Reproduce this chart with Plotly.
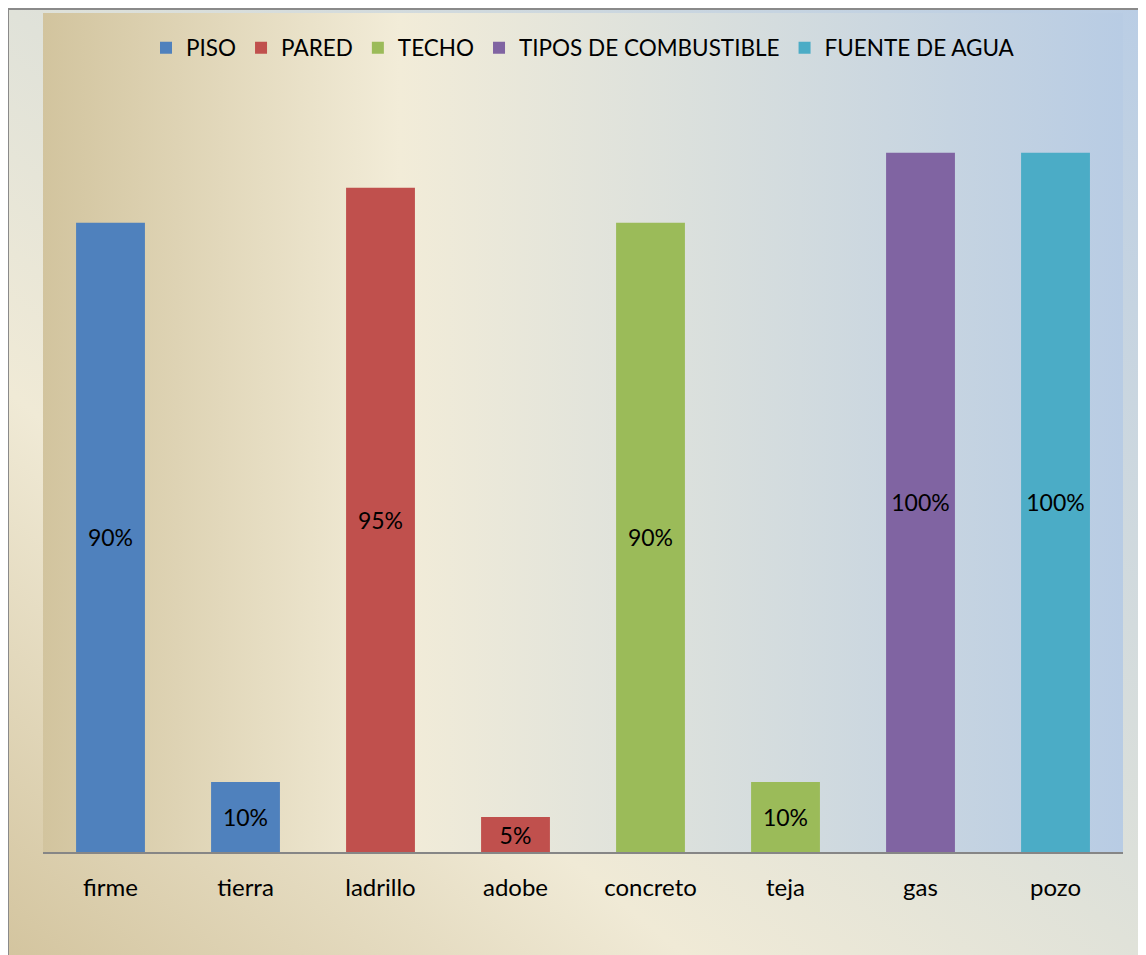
import base64

import plotly.graph_objects as go

# Data
series_names = ["PISO", "PARED", "TECHO", "TIPOS DE COMBUSTIBLE", "FUENTE DE AGUA"]
piso_cats = ["firme", "tierra"]
piso_vals = [0.90, 0.10]
pared_cats = ["ladrillo", "adobe"]
pared_vals = [0.95, 0.05]
techo_cats = ["concreto", "teja"]
techo_vals = [0.90, 0.10]
combustible_cats = ["gas"]
combustible_vals = [1.00]
agua_cats = ["pozo"]
agua_vals = [1.00]
categories = piso_cats + pared_cats + techo_cats + combustible_cats + agua_cats

COLORS = ["#4F81BD", "#C0504D", "#9BBB59", "#8064A2", "#4BACC6"]
FONT = "Lato, 'Open Sans', sans-serif"

# page has an 8px body margin, so the figure starts at (8, 8)
OFF = 8
W, H = 1146 - OFF, 955 - OFF
ML, MT = 43 - OFF, 13 - OFF
MR, MB = W - (1123 - OFF), H - (852 - OFF)
PW, PH = W - ML - MR, H - MT - MB
BX, BY = 8 - OFF, 9 - OFF  # outer border corner


def svg_uri(svg):
    return "data:image/svg+xml;base64," + base64.b64encode(svg.encode()).decode()


outer_svg = """<svg xmlns='http://www.w3.org/2000/svg' width='200' height='200' preserveAspectRatio='none'>
<defs><linearGradient id='g' x1='0' y1='1' x2='1' y2='0'>
<stop offset='0' stop-color='#d3c49e'/>
<stop offset='0.3' stop-color='#f0ead6'/>
<stop offset='0.5' stop-color='#e0e2d9'/>
<stop offset='1' stop-color='#b9cde5'/>
</linearGradient></defs>
<rect width='200' height='200' fill='url(#g)'/></svg>"""

inner_svg = """<svg xmlns='http://www.w3.org/2000/svg' width='200' height='200' preserveAspectRatio='none'>
<defs><linearGradient id='g' x1='0' y1='0' x2='1' y2='0'>
<stop offset='0' stop-color='#d2c49e'/>
<stop offset='0.33' stop-color='#f2ecd8'/>
<stop offset='0.62' stop-color='#d9dfdd'/>
<stop offset='1' stop-color='#b8cce4'/>
</linearGradient></defs>
<rect width='200' height='200' fill='url(#g)'/></svg>"""

fig = go.Figure()

all_series = [
    (piso_cats, piso_vals),
    (pared_cats, pared_vals),
    (techo_cats, techo_vals),
    (combustible_cats, combustible_vals),
    (agua_cats, agua_vals),
]
for name, (cats, vals), color in zip(series_names, all_series, COLORS):
    fig.add_trace(
        go.Bar(
            x=cats,
            y=vals,
            name=name,
            marker=dict(color=color, line=dict(width=0)),
            texttemplate="%{y:.0%}",
            textposition="inside",
            insidetextanchor="middle",
            textangle=0,
            textfont=dict(color="black", size=23, family=FONT),
            hoverinfo="x+y+name",
        )
    )

fig.update_layout(
    width=W,
    height=H,
    margin=dict(l=ML, r=MR, t=MT, b=MB, pad=0),
    barmode="overlay",
    bargap=0.49,
    paper_bgcolor="white",
    plot_bgcolor="rgba(0,0,0,0)",
    font=dict(family=FONT, size=23, color="black"),
    legend=dict(
        orientation="h",
        x=0.5,
        xanchor="center",
        y=1 - (48 - 13) / PH,
        yanchor="middle",
        bgcolor="rgba(0,0,0,0)",
        font=dict(size=22.5, family=FONT),
        itemwidth=30,
        traceorder="normal",
    ),
    xaxis=dict(
        categoryorder="array",
        categoryarray=categories,
        showline=True,
        linecolor="#868686",
        linewidth=2,
        ticks="outside",
        ticklen=13,
        tickcolor="rgba(0,0,0,0)",
        showgrid=False,
        tickfont=dict(size=24, family=FONT),
    ),
    yaxis=dict(
        range=[0, 1.2],
        visible=False,
        showgrid=False,
        zeroline=False,
    ),
    images=[
        dict(
            source=svg_uri(outer_svg),
            xref="paper", yref="paper",
            x=(BX - ML) / PW, y=1 + (MT - BY) / PH,
            sizex=(W - BX + 10) / PW, sizey=(H - BY + 10) / PH,
            xanchor="left", yanchor="top",
            sizing="stretch", layer="below",
        ),
        dict(
            source=svg_uri(inner_svg),
            xref="paper", yref="paper",
            x=0, y=1, sizex=1, sizey=1,
            xanchor="left", yanchor="top",
            sizing="stretch", layer="below",
        ),
    ],
    shapes=[
        dict(
            type="rect", xref="paper", yref="paper",
            x0=(BX - ML) / PW, x1=(W + 10 - ML) / PW,
            y0=-(H + 10 - MT - PH) / PH, y1=1 + (MT - BY) / PH,
            line=dict(color="#8a8a8a", width=2),
            fillcolor="rgba(0,0,0,0)", layer="above",
        )
    ],
)

fig.write_html("out.html")
